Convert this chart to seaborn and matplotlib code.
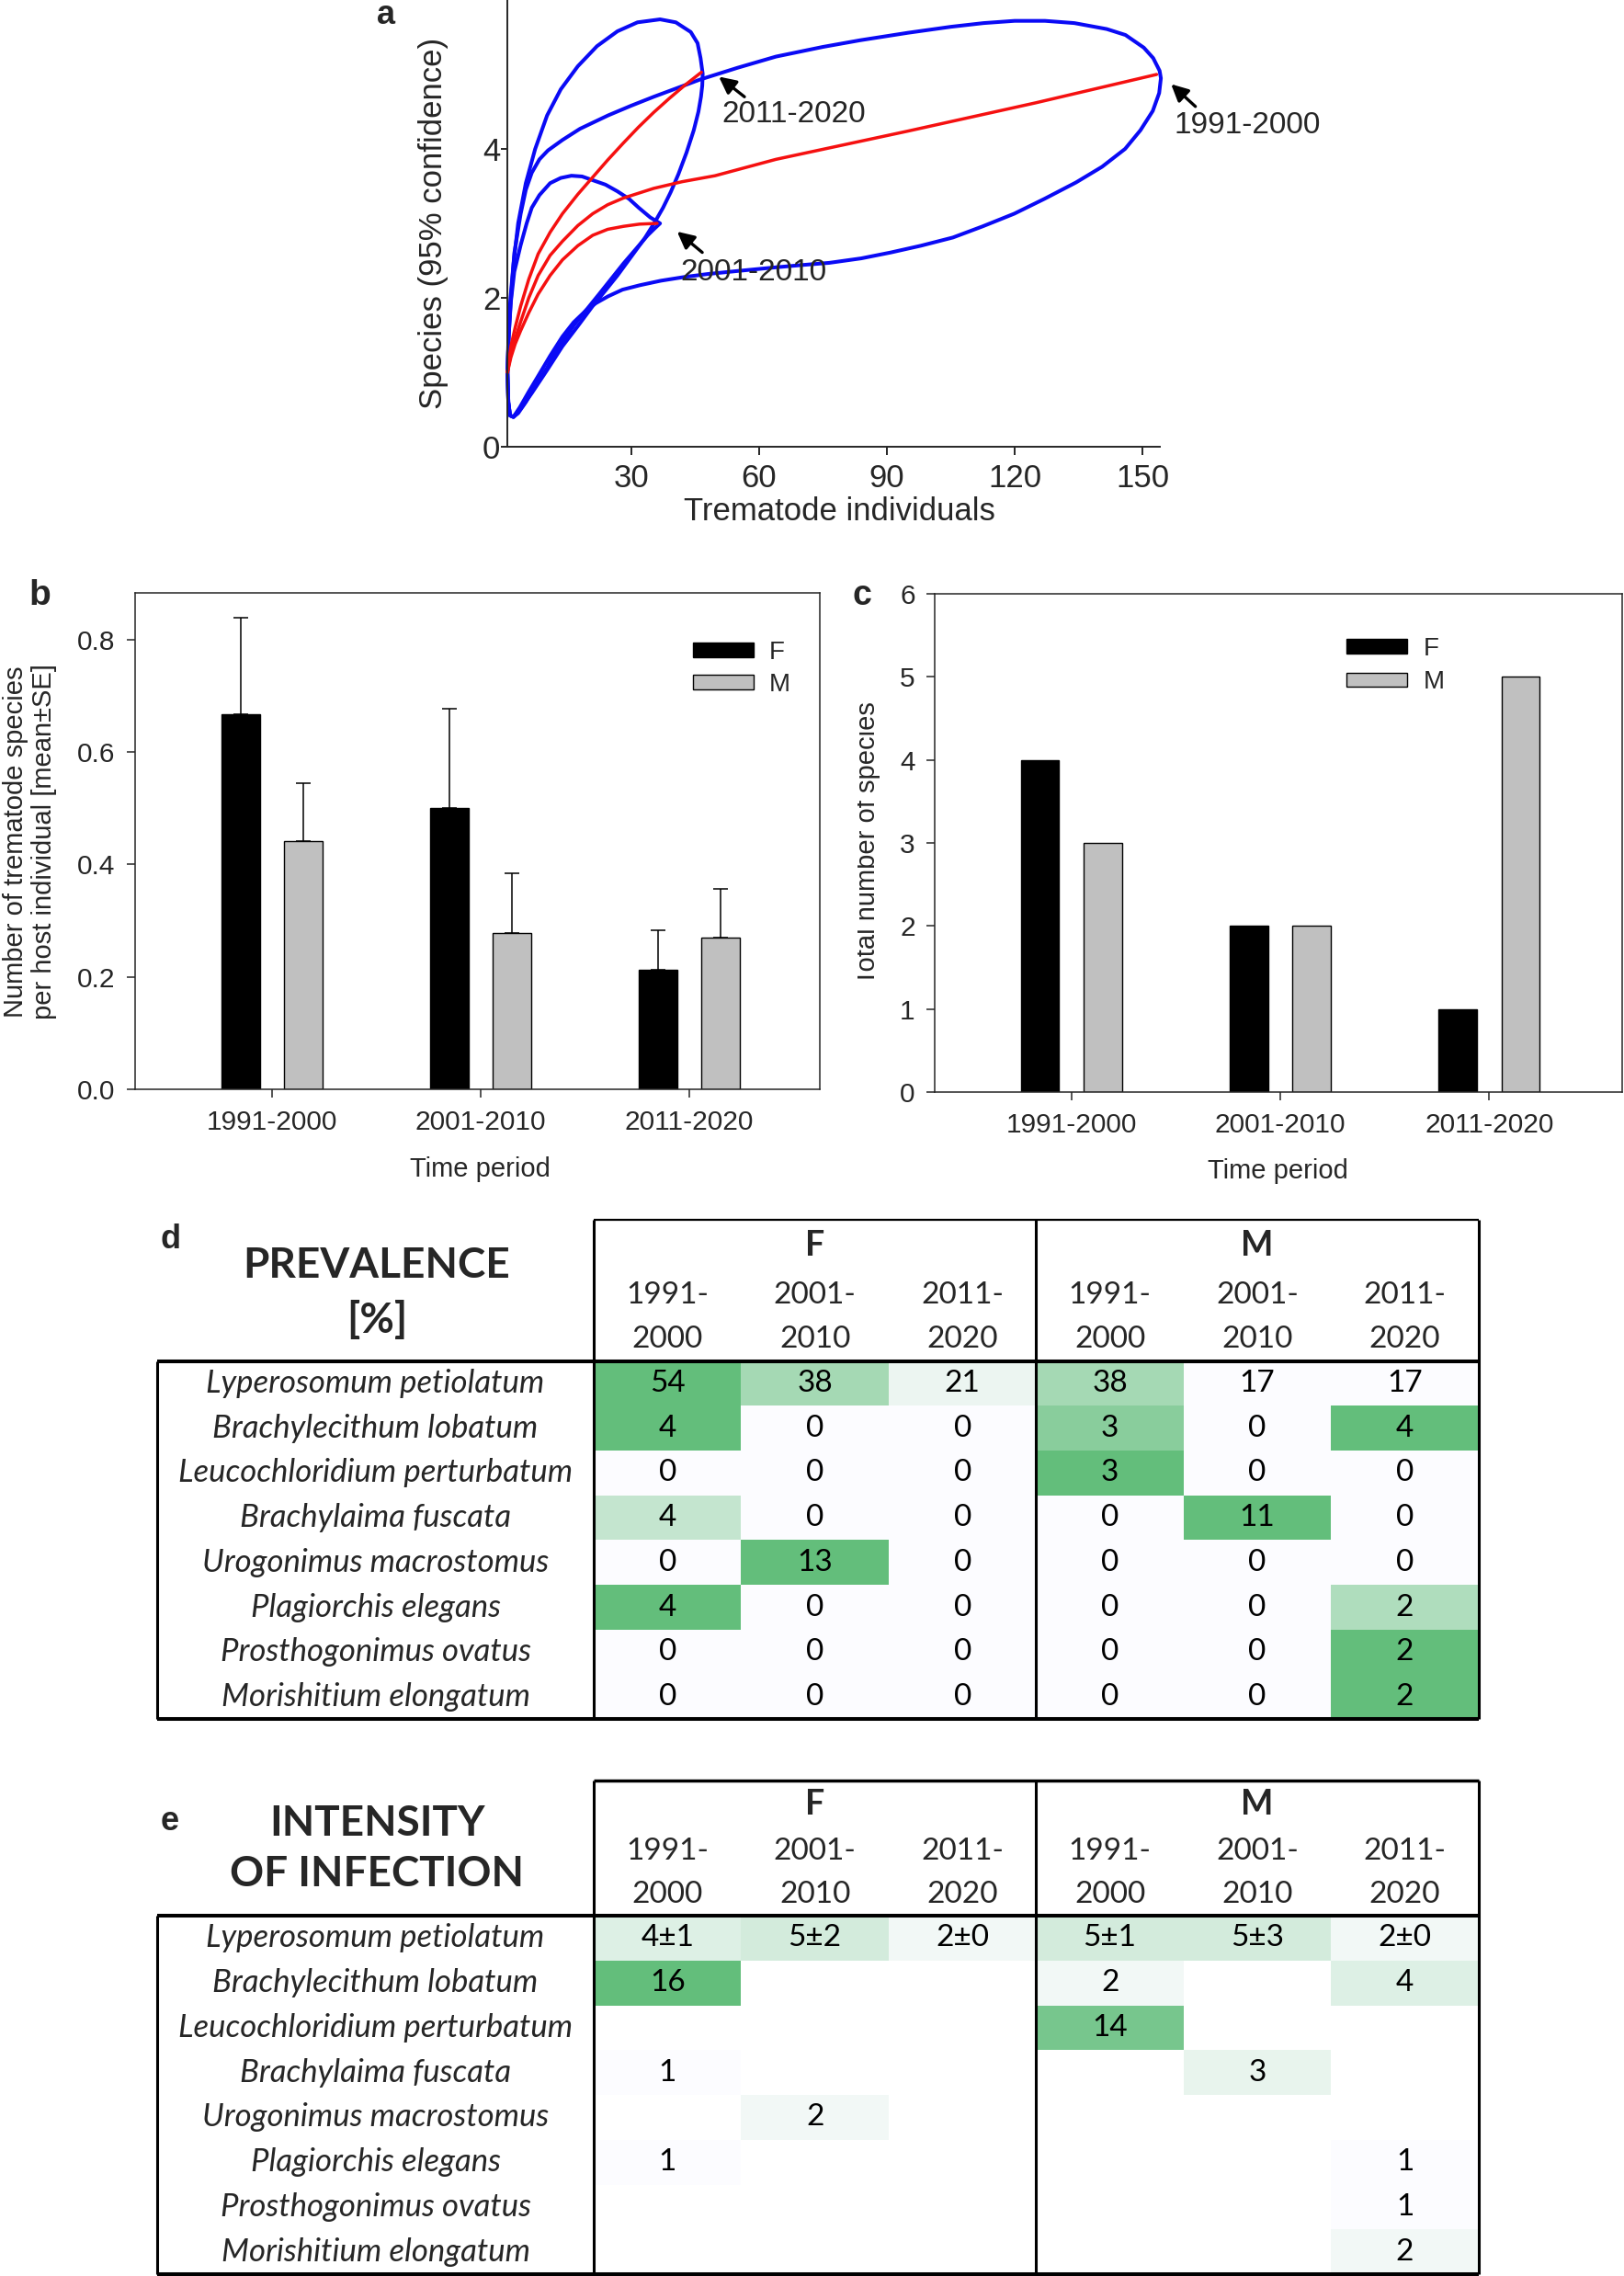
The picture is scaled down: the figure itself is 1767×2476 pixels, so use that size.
import numpy as np
import pandas as pd
import matplotlib
matplotlib.use("Agg")
import matplotlib.pyplot as plt
import seaborn as sns
from matplotlib.colors import LinearSegmentedColormap
from matplotlib.patches import Patch
from matplotlib.transforms import Bbox, TransformedBbox

sns.set_style("ticks")
plt.rcParams["font.family"] = ["Liberation Sans", "DejaVu Sans"]

# ---------------- data ----------------
periods = ["1991-2000", "2001-2010", "2011-2020"]
sexes = ["F", "M"]

# (a) rarefaction curves: mean (red) and 95% CI loop (blue)
mean91_x = [1, 1.8, 2.8, 4.1, 6, 8.2, 11, 13.9, 17.5, 21, 24.5, 28.2, 35.3, 42, 49.7, 64, 95, 125, 153.3]
mean91_y = [1.0, 1.25, 1.45, 1.68, 2.0, 2.30, 2.57, 2.76, 2.97, 3.13, 3.25, 3.34, 3.47, 3.56, 3.64,
            3.86, 4.24, 4.62, 5.0]
mean01_x = [1, 1.8, 2.8, 4.1, 6, 8.2, 11, 13.9, 17.5, 21, 24.5, 28.2, 32, 36.1]
mean01_y = [1.0, 1.2, 1.38, 1.56, 1.80, 2.05, 2.30, 2.51, 2.70, 2.84, 2.92, 2.96, 2.99, 3.0]
mean11_x = [1, 1.8, 2.8, 4.1, 6, 8.2, 11, 13.9, 17.5, 21, 24.5, 28.2, 31.7, 35.3, 39, 42.5, 46.5]
mean11_y = [1.0, 1.35, 1.6, 1.89, 2.25, 2.59, 2.88, 3.13, 3.39, 3.62, 3.85, 4.08, 4.29, 4.49, 4.68,
            4.85, 5.03]

ci91_x = [1, 1.3, 1.7, 2.6, 4.1, 5.3, 6.7, 8.5, 10.5, 13.9, 18, 24.6, 30, 35.3, 40, 46.1, 55, 64, 75,
          83.8, 95, 105, 112.7, 120, 127.1, 134, 141.6, 146, 150.3, 152.5, 154.0, 154.3,
          153.9, 152.4, 149.5, 145.9, 140.5, 134.4, 127, 119.9, 112.5, 105.5, 98, 91, 84, 76.5, 70,
          64, 54.9, 48, 42.5, 37, 32.1, 28, 24.6, 21.8, 19.6, 16.5, 13.9, 11, 8.2, 6, 3.9, 2.4,
          1.6, 1.2, 1]
ci91_y = [1.0, 1.5, 1.9, 2.6, 3.13, 3.45, 3.68, 3.86, 3.98, 4.12, 4.27, 4.45, 4.58, 4.70, 4.80, 4.93,
          5.09, 5.24, 5.37, 5.46, 5.56, 5.64, 5.69, 5.72, 5.72, 5.69, 5.61, 5.53, 5.36, 5.22, 5.05, 4.95,
          4.75, 4.51, 4.25, 4.0, 3.76, 3.55, 3.33, 3.13, 2.96, 2.81, 2.70, 2.61, 2.53, 2.47, 2.44,
          2.41, 2.36, 2.32, 2.28, 2.23, 2.17, 2.11, 2.02, 1.93, 1.84, 1.67, 1.48, 1.22, 0.95, 0.74,
          0.53, 0.40, 0.42, 0.6, 1.0]
ci01_x = [1, 1.3, 1.8, 2.6, 4.1, 5.5, 6.7, 8.5, 11, 13.5, 16, 18.5, 21, 24, 26.8, 29.5, 31.8, 34.5,
          36.8, 35.5, 33.9, 28.2, 22.5, 16.7, 12.5, 10.3, 7.5, 5.3, 3.5, 2.4, 1.6, 1.2, 1]
ci01_y = [1.0, 1.5, 1.95, 2.35, 2.71, 3.0, 3.21, 3.38, 3.54, 3.61, 3.64, 3.63, 3.58, 3.52, 3.43,
          3.33, 3.21, 3.08, 3.0, 2.93, 2.84, 2.46, 2.05, 1.64, 1.30, 1.06, 0.82, 0.60, 0.45, 0.40,
          0.42, 0.6, 1.0]
ci11_x = [1, 1.3, 1.7, 2.4, 3.5, 5.3, 7.5, 10.3, 13.5, 17.5, 22, 26.8, 31.5, 36.8, 40.5, 44.0, 45.6,
          46.3, 46.8, 46.7, 46.4, 45.8, 44.7, 43, 41.1, 39.3, 37.5, 35.5, 33.2, 30, 26.8, 24, 21,
          17.5, 13.9, 10.3, 6.7, 4.5, 2.4, 1.6, 1.2, 1]
ci11_y = [1.0, 1.6, 2.0, 2.45, 3.0, 3.54, 4.0, 4.45, 4.80, 5.11, 5.38, 5.58, 5.70, 5.74, 5.70, 5.57,
          5.42, 5.22, 5.01, 4.85, 4.70, 4.50, 4.25, 3.95, 3.66, 3.42, 3.21, 3.01, 2.80, 2.55, 2.30,
          2.10, 1.89, 1.62, 1.35, 1.03, 0.72, 0.54, 0.40, 0.42, 0.6, 1.0]

# (b) species per host individual, mean and SE
b_mean_F = [0.667, 0.500, 0.213]
b_mean_M = [0.441, 0.278, 0.270]
b_se_F = [0.172, 0.177, 0.070]
b_se_M = [0.103, 0.106, 0.086]

# (c) total number of species
c_total_F = [4, 2, 1]
c_total_M = [3, 2, 5]

# (d, e) tables
species = ["Lyperosomum petiolatum", "Brachylecithum lobatum", "Leucochloridium perturbatum",
           "Brachylaima fuscata", "Urogonimus macrostomus", "Plagiorchis elegans",
           "Prosthogonimus ovatus", "Morishitium elongatum"]
prev_F = {"1991-2000": [54, 4, 0, 4, 0, 4, 0, 0],
          "2001-2010": [38, 0, 0, 0, 13, 0, 0, 0],
          "2011-2020": [21, 0, 0, 0, 0, 0, 0, 0]}
prev_M = {"1991-2000": [38, 3, 3, 0, 0, 0, 0, 0],
          "2001-2010": [17, 0, 0, 11, 0, 0, 0, 0],
          "2011-2020": [17, 4, 0, 0, 0, 2, 2, 2]}
int_F = {"1991-2000": ["4±1", "16", "", "1", "", "1", "", ""],
         "2001-2010": ["5±2", "", "", "", "2", "", "", ""],
         "2011-2020": ["2±0", "", "", "", "", "", "", ""]}
int_M = {"1991-2000": ["5±1", "2", "14", "", "", "", "", ""],
         "2001-2010": ["5±3", "", "", "3", "", "", "", ""],
         "2011-2020": ["2±0", "4", "", "", "", "1", "1", "2"]}

# ---------------- layout helpers ----------------
W, H = 1767, 2476
fig = plt.figure(figsize=(W / 100, H / 100), dpi=100)


def fig_box(left, top, right, bottom):
    return [left / W, 1 - bottom / H, (right - left) / W, (bottom - top) / H]


blue = "#0A0AF5"
red = "#F51010"
grey = "#C0C0C0"

# ---------------- (a) ----------------
ax_a = fig.add_axes(fig_box(551.7, 0, 1261.7, 486))
for cx, cy in [(ci91_x, ci91_y), (ci01_x, ci01_y), (ci11_x, ci11_y)]:
    sns.lineplot(x=cx, y=cy, sort=False, estimator=None, color=blue, lw=2.9, ax=ax_a)
for mx, my in [(mean91_x, mean91_y), (mean01_x, mean01_y), (mean11_x, mean11_y)]:
    sns.lineplot(x=mx, y=my, sort=False, estimator=None, color=red, lw=2.5, ax=ax_a)
for ln in ax_a.lines:
    ln.set_clip_on(False)
    ln.set_solid_joinstyle("round")

ax_a.set_xlim(0.9, 154)
ax_a.set_ylim(0, 6.0)
ax_a.set_xticks([30, 60, 90, 120, 150])
ax_a.set_yticks([0, 2, 4])
sns.despine(ax=ax_a)
for sp in ax_a.spines.values():
    sp.set_linewidth(1.4)
ax_a.tick_params(axis="x", length=6.5, width=1.4, pad=6.5, labelsize=25)
ax_a.tick_params(axis="y", length=4.8, width=1.4, pad=0.5, labelsize=25)
ax_a.set_xlabel("Trematode individuals", fontsize=25)
ax_a.xaxis.set_label_coords(0.51, -0.111)
ax_a.set_ylabel("Species (95% confidence)", fontsize=25)
ax_a.yaxis.set_label_coords(-0.09, 0.5)

arrow_heads = [(156.7, 4.87), (40.8, 2.89), (50.6, 4.97)]
arrow_tails = [(162.4, 4.57), (46.7, 2.61), (56.6, 4.70)]
label_pos = [(157.4, 4.31), (41.5, 2.34), (51.2, 4.46)]
for name, head, tail, pos in zip(periods, arrow_heads, arrow_tails, label_pos):
    ax_a.annotate("", xy=head, xytext=tail, annotation_clip=False,
                  arrowprops=dict(arrowstyle="-|>,head_length=0.5,head_width=0.25",
                                  mutation_scale=22, lw=2.4, color="black",
                                  shrinkA=0, shrinkB=0))
    ax_a.text(pos[0], pos[1], name, fontsize=24, ha="left", va="center", clip_on=False)

# ---------------- (b) and (c) ----------------
df_b = pd.DataFrame({"period": periods * 2, "sex": ["F"] * 3 + ["M"] * 3,
                     "value": b_mean_F + b_mean_M})
df_c = pd.DataFrame({"period": periods * 2, "sex": ["F"] * 3 + ["M"] * 3,
                     "value": c_total_F + c_total_M})
pal = {"F": "black", "M": grey}

ax_b = fig.add_axes(fig_box(147, 645.3, 891.5, 1185.4))
ax_c = fig.add_axes(fig_box(1017.4, 646, 1765, 1188))

for ax, df, spacing, anchor in [(ax_b, df_b, 0.32, (0.815, 0.904)), (ax_c, df_c, 0.39, (0.599, 0.914))]:
    sns.barplot(data=df, x="period", y="value", hue="sex", hue_order=sexes, palette=pal,
                width=0.6, gap=0.39, edgecolor="black", linewidth=1.0, errorbar=None,
                legend=False, ax=ax)
    for sp in ax.spines.values():
        sp.set_linewidth(1.1)
    ax.tick_params(axis="both", length=6.5, width=1.1, pad=9, labelsize=21.5)
    ax.set_xlabel("Time period", fontsize=21)
    ax.legend(handles=[Patch(facecolor="black", edgecolor="black", label="F"),
                       Patch(facecolor=grey, edgecolor="black", label="M")],
              frameon=False, fontsize=20, handlelength=2.37, handleheight=0.49,
              handletextpad=0.63, labelspacing=spacing, borderpad=0, borderaxespad=0,
              loc="upper left", bbox_to_anchor=anchor)

for cont, se in zip(ax_b.containers, [b_se_F, b_se_M]):
    for bar, e in zip(cont, se):
        xc = bar.get_x() + bar.get_width() / 2
        ax_b.errorbar(xc, bar.get_height(), yerr=[[0], [e]], fmt="none", ecolor="black",
                      elinewidth=1.1, capsize=5.8, capthick=1.1)

ax_b.set_xlim(-0.656, 2.623)
ax_b.set_ylim(0, 0.882)
ax_b.set_yticks([0, 0.2, 0.4, 0.6, 0.8])
ax_b.set_yticklabels([f"{v:.1f}" for v in [0, 0.2, 0.4, 0.6, 0.8]])
ax_b.set_ylabel("Number of trematode species\nper host individual [mean±SE]", fontsize=21,
                linespacing=1.15)
ax_b.yaxis.set_label_coords(-0.114, 0.5)
ax_b.xaxis.set_label_coords(0.504, -0.134)

ax_c.set_xlim(-0.653, 2.637)
ax_c.set_ylim(0, 6)
ax_c.set_yticks(range(7))
ax_c.set_ylabel("Total number of species", fontsize=21)
ax_c.yaxis.set_label_coords(-0.0795, 0.5)
ax_c.xaxis.set_label_coords(0.499, -0.133)
# the left part of this label is cut off in the original figure
ax_c.yaxis.label.set_clip_on(True)
ax_c.yaxis.label.set_clip_box(TransformedBbox(Bbox([[933 / W, 0], [1, 1]]), fig.transFigure))

# ---------------- (d) and (e) tables ----------------
green = LinearSegmentedColormap.from_list("excel_green", ["#FCFCFF", "#63BE7B"])
cols = [("F", p) for p in periods] + [("M", p) for p in periods]

prev_vals = np.array([prev_F[p] for p in periods] + [prev_M[p] for p in periods], float).T
row_min = prev_vals.min(axis=1, keepdims=True)
row_max = prev_vals.max(axis=1, keepdims=True)
prev_colour = (prev_vals - row_min) / (row_max - row_min)
prev_text = prev_vals.astype(int).astype(str)

int_text = np.array([int_F[p] for p in periods] + [int_M[p] for p in periods]).T
int_colour = np.array([[float(s.split("±")[0]) if s else np.nan for s in row] for row in int_text])


def draw_table(ax, colour, text, vmin, vmax, title, title_y, sex_y, year_y, top_y, top_lw):
    sns.heatmap(colour, ax=ax, cmap=green, vmin=vmin, vmax=vmax, cbar=False,
                annot=text, fmt="", xticklabels=False, yticklabels=False,
                annot_kws=dict(fontsize=24, color="black", family="Lato"))
    ax.tick_params(length=0)
    for i, name in enumerate(species):
        ax.text(-1.48, i + 0.5, name, fontsize=25, style="italic", family="Lato",
                ha="center", va="center")
    for line, y in zip(title, title_y):
        ax.text(-1.47, y, line, fontsize=33, fontweight="bold", family="Lato",
                ha="center", va="center")
    for k, s in enumerate(sexes):
        ax.text(3 * k + 1.5, sex_y, s, fontsize=27, fontweight="bold", family="Lato",
                ha="center", va="center")
    for j, (s, p) in enumerate(cols):
        first, second = p.split("-")
        ax.text(j + 0.5, year_y[0], first + "-", fontsize=24, family="Lato", ha="center", va="center")
        ax.text(j + 0.5, year_y[1], second, fontsize=24, family="Lato", ha="center", va="center")
    kw = dict(color="black", clip_on=False, zorder=5)
    ax.hlines(top_y, 0, 6, lw=top_lw, **kw)
    ax.hlines([0, 8], -2.961, 6, lw=2.9, **kw)
    ax.vlines(-2.961, 0, 8, lw=2.2, **kw)
    ax.vlines([0, 3, 6], top_y, 8, lw=2.2, **kw)


ax_d = fig.add_axes(fig_box(646, 1480.5, 1608.8, 1870.4))
draw_table(ax_d, prev_colour, prev_text, 0, 1, ["PREVALENCE", "[%]"], [-2.130, -0.913],
           -2.585, [-1.461, -0.482], -3.156, 1.6)
ax_e = fig.add_axes(fig_box(646, 2084.1, 1608.8, 2474))
draw_table(ax_e, int_colour, int_text, 1, 16, ["INTENSITY", "OF INFECTION"], [-2.054, -0.925],
           -2.493, [-1.438, -0.466], -3.018, 2.5)

# ---------------- panel letters ----------------
for letter, x, y, size in [("a", 420, 25.8, 26), ("b", 43, 658, 28), ("c", 938, 658, 27),
                           ("d", 186, 1358, 26), ("e", 185, 1991, 26)]:
    fig.text(x / W, 1 - y / H, letter, fontsize=size, fontweight="bold", ha="center", va="baseline")

fig.savefig("out.png", dpi=100)
